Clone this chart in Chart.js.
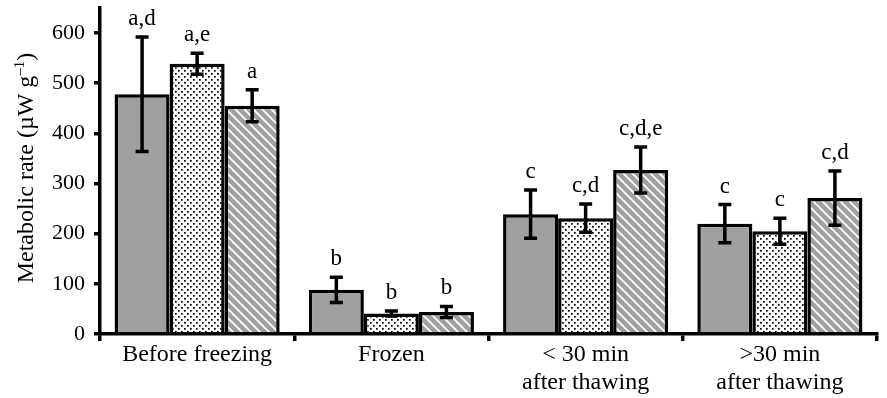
<!DOCTYPE html>
<html>
<head>
<meta charset="utf-8">
<script src="https://cdn.jsdelivr.net/npm/chart.js@4/dist/chart.umd.min.js"></script>
<style>
  html, body { margin: 0; padding: 0; background: #fff; }
  #wrap { width: 887px; height: 398px; }
</style>
</head>
<body>
<div id="wrap"><canvas id="chart" width="887" height="398"></canvas></div>
<script>
// values (µW g-1)
const categories = ['Before freezing', 'Frozen', ['< 30 min', 'after thawing'], ['>30 min', 'after thawing']];
const yTicks = [0, 100, 200, 300, 400, 500, 600];

const grayValues = [478, 88, 239, 220];
const grayErrors = [114, 25, 48, 38];
const grayLetters = ['a,d', 'b', 'c', 'c'];

const dottedValues = [539, 41, 231, 205];
const dottedErrors = [21, 5, 28, 26];
const dottedLetters = ['a,e', 'b', 'c,d', 'c'];

const hatchedValues = [455, 44, 327, 271];
const hatchedErrors = [32, 11, 46, 54];
const hatchedLetters = ['a', 'b', 'c,d,e', 'c,d'];

const FONT = "'Liberation Serif', 'Times New Roman', serif";

// fill patterns
function dotPattern() {
    const c = document.createElement('canvas');
    c.width = 6; c.height = 6;
    const g = c.getContext('2d');
    g.fillStyle = '#fff';
    g.fillRect(0, 0, 6, 6);
    g.fillStyle = '#000';
    g.fillRect(1, 1, 1.7, 1.7);
    g.fillRect(4, 4, 1.7, 1.7);
    return g.createPattern(c, 'repeat');
}

function hatchPattern() {
    const s = 9;
    const c = document.createElement('canvas');
    c.width = s; c.height = s;
    const g = c.getContext('2d');
    g.fillStyle = '#a0a0a0';
    g.fillRect(0, 0, s, s);
    g.strokeStyle = '#fff';
    g.lineWidth = 1.8;
    g.beginPath();
    g.moveTo(-2, -2); g.lineTo(s + 2, s + 2);
    g.moveTo(-2, s - 2); g.lineTo(2, s + 2);
    g.moveTo(s - 2, -2); g.lineTo(s + 2, 2);
    g.stroke();
    return g.createPattern(c, 'repeat');
}

const errorsBySet = [grayErrors, dottedErrors, hatchedErrors];
const lettersBySet = [grayLetters, dottedLetters, hatchedLetters];

// error bars + significance letters
const errorBarPlugin = {
    id: 'errorBars',
    afterDatasetsDraw(chart) {
        const ctx = chart.ctx;
        const y = chart.scales.y;
        ctx.save();
        chart.data.datasets.forEach((ds, i) => {
            const meta = chart.getDatasetMeta(i);
            meta.data.forEach((bar, j) => {
                const v = ds.data[j];
                const e = errorsBySet[i][j];
                const yTop = y.getPixelForValue(v + e);
                const yBot = y.getPixelForValue(v - e);
                const x = bar.x;
                ctx.strokeStyle = '#000';
                ctx.lineWidth = 3.5;
                ctx.beginPath();
                ctx.moveTo(x, yTop); ctx.lineTo(x, yBot);
                ctx.moveTo(x - 6.5, yTop); ctx.lineTo(x + 6.5, yTop);
                ctx.moveTo(x - 6.5, yBot); ctx.lineTo(x + 6.5, yBot);
                ctx.stroke();

                ctx.fillStyle = '#000';
                ctx.font = '23px ' + FONT;
                ctx.textAlign = 'center';
                ctx.textBaseline = 'alphabetic';
                ctx.fillText(lettersBySet[i][j], x, yTop - 12);
            });
        });
        ctx.restore();
    }
};

// rotated y title with superscript
const yTitlePlugin = {
    id: 'yTitle',
    afterDraw(chart) {
        const ctx = chart.ctx;
        ctx.save();
        ctx.translate(33, 168);
        ctx.rotate(-Math.PI / 2);
        ctx.fillStyle = '#000';
        ctx.textBaseline = 'alphabetic';
        ctx.textAlign = 'left';
        const main = 'Metabolic rate (\u00b5W g';
        const sup = '\u20131';
        const end = ')';
        ctx.font = '24px ' + FONT;
        const w1 = ctx.measureText(main).width;
        const w3 = ctx.measureText(end).width;
        ctx.font = '15px ' + FONT;
        const w2 = ctx.measureText(sup).width;
        const x0 = -(w1 + w2 + w3) / 2;
        ctx.font = '24px ' + FONT;
        ctx.fillText(main, x0, 0);
        ctx.font = '15px ' + FONT;
        ctx.fillText(sup, x0 + w1, -9);
        ctx.font = '24px ' + FONT;
        ctx.fillText(end, x0 + w1 + w2, 0);
        ctx.restore();
    }
};

new Chart(document.getElementById('chart'), {
    type: 'bar',
    data: {
        labels: categories,
        datasets: [
            { label: 'Series 1', data: grayValues, backgroundColor: '#a0a0a0' },
            { label: 'Series 2', data: dottedValues, backgroundColor: dotPattern() },
            { label: 'Series 3', data: hatchedValues, backgroundColor: hatchPattern() }
        ].map(d => Object.assign(d, { borderColor: '#000', borderWidth: 3.5, borderSkipped: 'bottom' }))
    },
    options: {
        responsive: false,
        animation: false,
        events: [],
        layout: { padding: { left: 0, right: 10, top: 8, bottom: 0 } },
        datasets: { bar: { categoryPercentage: 0.85, barPercentage: 1 } },
        plugins: { legend: { display: false }, tooltip: { enabled: false } },
        scales: {
            x: {
                grid: { offset: true, drawOnChartArea: false, drawTicks: true, tickLength: 7, color: '#000', lineWidth: 3.5 },
                border: { color: '#000', width: 3.5 },
                ticks: { color: '#000', font: { family: FONT, size: 24, lineHeight: 1.17 }, padding: 0, maxRotation: 0, autoSkip: false },
                afterFit(s) { s.height = 64; s.paddingLeft = 0; s.paddingRight = 0; }
            },
            y: {
                min: 0,
                max: 650,
                grid: { drawOnChartArea: false, drawTicks: true, tickLength: 6, color: '#000', lineWidth: 3.5 },
                border: { color: '#000', width: 3.5 },
                ticks: { stepSize: 100, color: '#000', font: { family: FONT, size: 22 }, padding: 9 },
                afterBuildTicks(s) { s.ticks = yTicks.map(v => ({ value: v })); },
                afterFit(s) { s.width = 100; s.paddingTop = 0; s.paddingBottom = 0; }
            }
        }
    },
    plugins: [errorBarPlugin, yTitlePlugin]
});
</script>
</body>
</html>
